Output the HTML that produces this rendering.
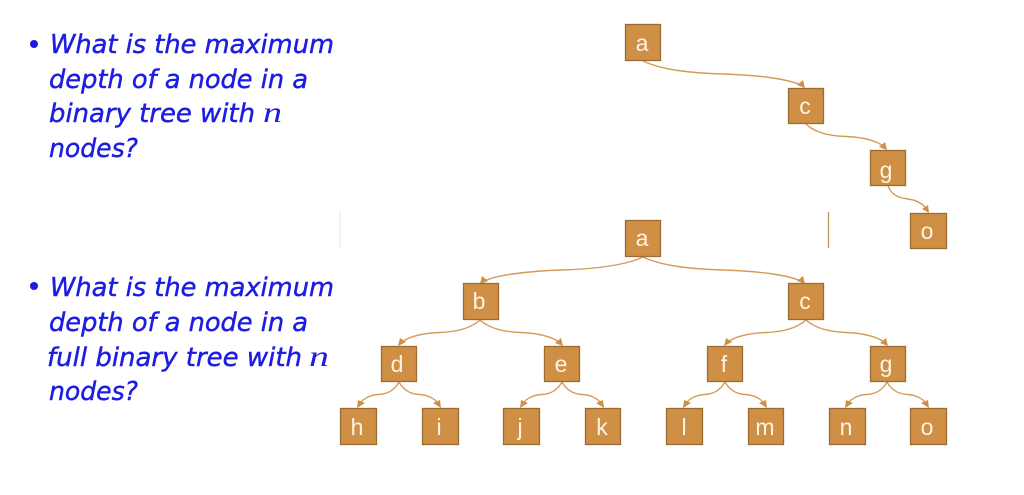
<!DOCTYPE html>
<html><head><meta charset="utf-8"><style>
html,body{margin:0;padding:0;background:#fff;width:1024px;height:495px;overflow:hidden}
svg{display:block;filter:blur(.35px)}
.q{font-family:"DejaVu Sans",sans-serif;font-style:italic;font-size:26px;fill:#1c1ce2;stroke:#1c1ce2;stroke-width:.45}
.m{font-family:"Liberation Serif",serif;font-style:italic;font-size:30px;fill:#1c1ce2}
.n rect{fill:#cf8f45;stroke:#9c6c35;stroke-width:1.3}
.n text{font-family:"Liberation Sans",sans-serif;font-size:23px;fill:#fdf3e4;text-anchor:middle}
.e path{fill:none;stroke:#d49a5a;stroke-width:1.4}
.e polygon{fill:#cf8f45}
</style></head><body>
<svg width="1024" height="495" viewBox="0 0 1024 495" xmlns="http://www.w3.org/2000/svg">
<circle cx="34" cy="44" r="4" fill="#1c1ce2"/>
<text class="q" x="50" y="53" textLength="284" lengthAdjust="spacingAndGlyphs">What is the maximum</text>
<text class="q" x="49" y="88" textLength="259" lengthAdjust="spacingAndGlyphs">depth of a node in a</text>
<text class="q" x="49" y="122" textLength="206" lengthAdjust="spacingAndGlyphs">binary tree with</text>
<text class="m" x="263" y="122" textLength="19" lengthAdjust="spacingAndGlyphs">n</text>
<text class="q" x="49" y="157" textLength="89" lengthAdjust="spacingAndGlyphs">nodes?</text>
<circle cx="34" cy="286" r="4" fill="#1c1ce2"/>
<text class="q" x="50" y="296" textLength="284" lengthAdjust="spacingAndGlyphs">What is the maximum</text>
<text class="q" x="49" y="331" textLength="259" lengthAdjust="spacingAndGlyphs">depth of a node in a</text>
<text class="q" x="47" y="366" textLength="255" lengthAdjust="spacingAndGlyphs">full binary tree with</text>
<text class="m" x="309" y="366" textLength="20" lengthAdjust="spacingAndGlyphs">n</text>
<text class="q" x="49" y="400" textLength="89" lengthAdjust="spacingAndGlyphs">nodes?</text>
<line x1="340" y1="212" x2="340" y2="248" stroke="#e8e6e0" stroke-width="1"/>
<line x1="828.5" y1="212" x2="828.5" y2="248" stroke="#bd9560" stroke-width="1.3"/>
<g class="e">
<path d="M643 61C662 70 691 73 723.5 74S793 79 804 87"/><polygon points="805,88 797,85 803,80"/>
<path d="M806 124C815 133 830 136 846 136.5S880 141 886 149"/><polygon points="887,150 879,147 885,142"/>
<path d="M888 186C892 196 900 198 908 199S925 204 928 212"/><polygon points="929,213 922,209 928,205"/>
<path d="M643 257C624 266 594 269 562 270S492 275 481 283"/><polygon points="480,284 482,276 488,281"/>
<path d="M643 257C662 266 691 269 723.5 270S793 275 804 283"/><polygon points="805,284 797,281 803,276"/>
<path d="M480 320C470 329 456 332 439.5 332.5S405 337 399 345"/><polygon points="398,346 400,338 406,342"/>
<path d="M480 320C490 329 505 332 521 332.5S556 337 562 345"/><polygon points="563,346 555,343 561,338"/>
<path d="M806 320C796 329 782 332 765.5 332.5S731 337 725 345"/><polygon points="724,346 726,338 732,342"/>
<path d="M806 320C816 329 831 332 846.5 332.5S881 337 887 345"/><polygon points="888,346 880,343 886,338"/>
<path d="M399 382C394 391 387 394 378.5 394.5S361 399 358 407"/><polygon points="357,408 358,400 365,403"/>
<path d="M399 382C404 391 411 394 419.5 394.5S437 399 440 407"/><polygon points="441,408 433,403 440,400"/>
<path d="M562 382C557 391 550 394 541.5 394.5S524 399 521 407"/><polygon points="520,408 521,400 528,403"/>
<path d="M562 382C567 391 574 394 582.5 394.5S600 399 603 407"/><polygon points="604,408 596,403 603,400"/>
<path d="M725 382C720 391 713 394 704.5 394.5S687 399 684 407"/><polygon points="683,408 684,400 691,403"/>
<path d="M725 382C730 391 737 394 745.5 394.5S763 399 766 407"/><polygon points="767,408 759,403 766,400"/>
<path d="M887 382C882 391 875 394 866.5 394.5S849 399 846 407"/><polygon points="845,408 846,400 853,403"/>
<path d="M887 382C892 391 899 394 907.5 394.5S925 399 928 407"/><polygon points="929,408 921,403 928,400"/>
</g>
<g class="n">
<rect x="625.5" y="24.5" width="35" height="36"/><text x="642" y="51">a</text>
<rect x="788.5" y="88.5" width="35" height="35"/><text x="805" y="114">c</text>
<rect x="870.5" y="150.5" width="35" height="35"/><text x="886" y="178">g</text>
<rect x="910.5" y="213.5" width="36" height="35"/><text x="927" y="239">o</text>
<rect x="625.5" y="220.5" width="35" height="36"/><text x="642" y="246">a</text>
<rect x="463.5" y="283.5" width="35" height="36"/><text x="479" y="309">b</text>
<rect x="788.5" y="283.5" width="35" height="36"/><text x="805" y="309">c</text>
<rect x="381.5" y="346.5" width="35" height="35"/><text x="397" y="372">d</text>
<rect x="544.5" y="346.5" width="35" height="35"/><text x="561" y="372">e</text>
<rect x="707.5" y="346.5" width="35" height="35"/><text x="724" y="372">f</text>
<rect x="870.5" y="346.5" width="35" height="35"/><text x="886" y="372">g</text>
<rect x="340.5" y="408.5" width="36" height="36"/><text x="357" y="435">h</text>
<rect x="422.5" y="408.5" width="36" height="36"/><text x="439" y="435">i</text>
<rect x="503.5" y="408.5" width="36" height="36"/><text x="520" y="435">j</text>
<rect x="585.5" y="408.5" width="35" height="36"/><text x="602" y="435">k</text>
<rect x="666.5" y="408.5" width="36" height="36"/><text x="684" y="435">l</text>
<rect x="748.5" y="408.5" width="35" height="36"/><text x="765" y="435">m</text>
<rect x="829.5" y="408.5" width="36" height="36"/><text x="846" y="435">n</text>
<rect x="910.5" y="408.5" width="36" height="36"/><text x="927" y="435">o</text>
</g>
</svg>
</body></html>
